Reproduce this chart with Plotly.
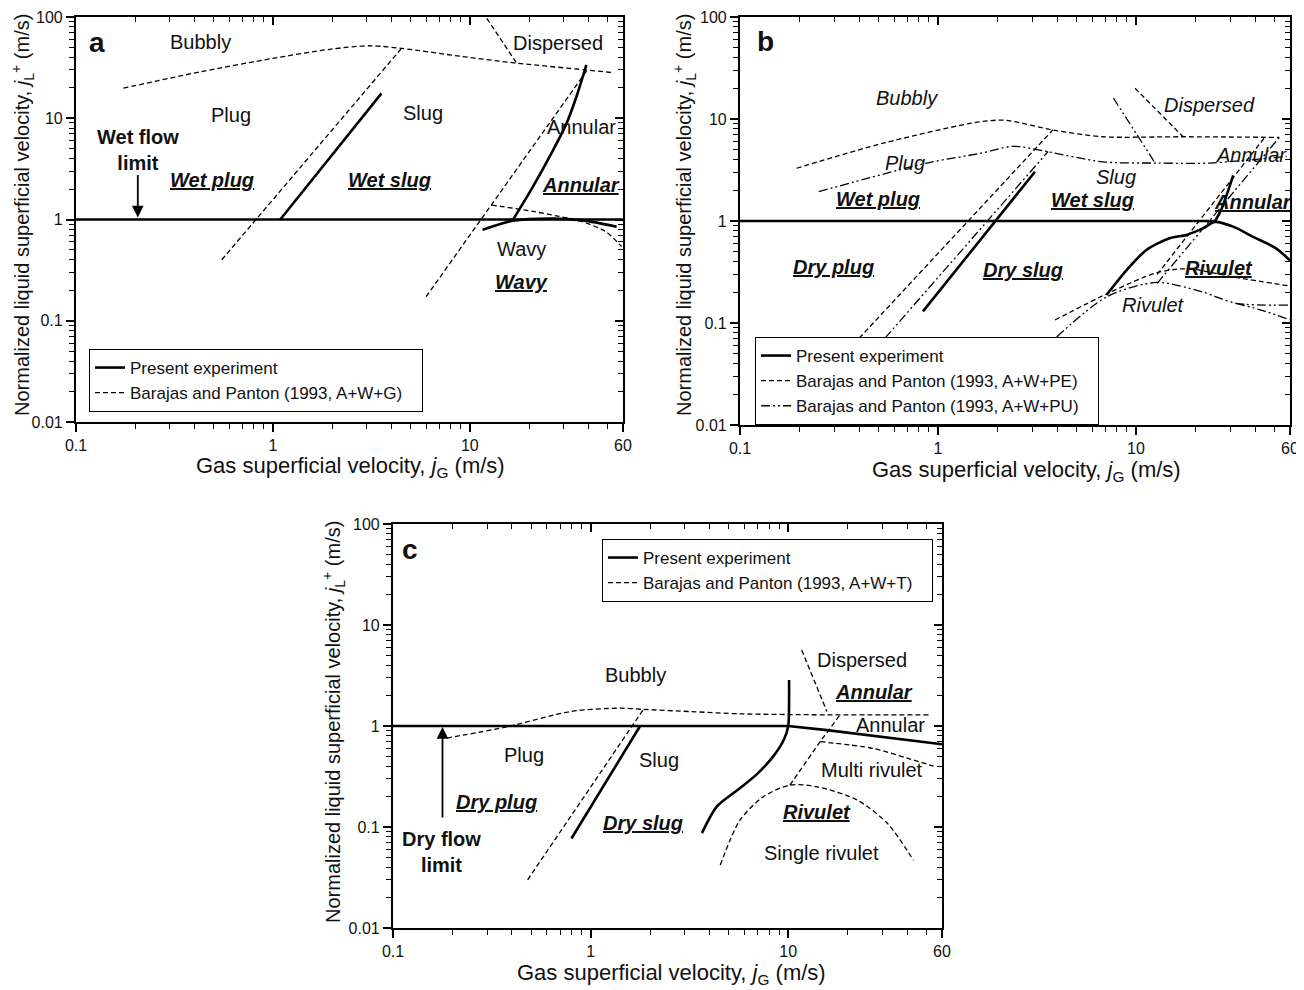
import math
import plotly.graph_objects as go

# ---------------- data ----------------
# Panel a : A+W+G
a_limit_x = [0.1, 60]
a_limit_y = [1.0, 1.0]
a_exp_slug_x = [1.09, 3.56]
a_exp_slug_y = [1.0, 17.6]
a_exp_ann_x = [16.6, 20.9, 26.5, 31.0, 34.8, 39.1]
a_exp_ann_y = [1.0, 2.1, 4.85, 8.9, 16.3, 33.6]
a_exp_wavy_x = [11.6, 16.5, 26.4, 37.5, 55.7]
a_exp_wavy_y = [0.79, 0.97, 1.02, 0.98, 0.85]
a_bp_bubbly_x = [0.174, 0.43, 1.0, 1.95, 3.1, 4.5, 8.9, 17.3, 39, 53]
a_bp_bubbly_y = [19.8, 28.8, 39, 48, 52, 49, 41, 35, 30, 28.2]
a_bp_disp_x = [12.2, 17.3]
a_bp_disp_y = [97, 35]
a_bp_plugslug_x = [0.55, 4.5]
a_bp_plugslug_y = [0.40, 49]
a_bp_slugann_x = [6.0, 40]
a_bp_slugann_y = [0.173, 31]
a_bp_wavy_x = [12.9, 21, 28, 36, 49, 59]
a_bp_wavy_y = [1.39, 1.2, 1.08, 0.97, 0.76, 0.54]

# Panel b : A+W+PE / A+W+PU
b_limit_x = [0.1, 25]
b_limit_y = [1.0, 1.0]
b_exp_slug_x = [0.84, 3.09]
b_exp_slug_y = [0.13, 3.04]
b_exp_riv_x = [7.1, 8.97, 11.3, 14.9, 18, 21.9, 25, 31, 39, 51, 60]
b_exp_riv_y = [0.188, 0.33, 0.52, 0.68, 0.73, 0.85, 0.98, 0.88, 0.70, 0.54, 0.41]
b_exp_ann_x = [25, 27, 29, 31]
b_exp_ann_y = [0.98, 1.3, 1.9, 2.8]
b_pe_bubbly_x = [0.193, 0.53, 1.63, 2.2, 3.8, 6.8, 17.3, 53]
b_pe_bubbly_y = [3.29, 5.8, 9.4, 9.7, 7.8, 6.7, 6.7, 6.6]
b_pe_disp_x = [9.9, 17.3]
b_pe_disp_y = [20, 6.7]
b_pe_plugslug_x = [0.40, 3.8]
b_pe_plugslug_y = [0.071, 7.8]
b_pe_riv_x = [3.9, 7.4, 12.7, 18, 32, 60]
b_pe_riv_y = [0.107, 0.2, 0.31, 0.34, 0.28, 0.23]
b_pe_slugann_x = [12.8, 45]
b_pe_slugann_y = [0.30, 6.7]
b_pu_bubbly_x = [0.25, 0.88, 1.63, 2.4, 3.54, 6.8, 12.7, 23.7, 57.7]
b_pu_bubbly_y = [1.94, 3.7, 4.6, 5.4, 4.8, 3.8, 3.7, 3.7, 4.3]
b_pu_disp_x = [7.7, 12.5]
b_pu_disp_y = [16, 3.7]
b_pu_plugslug_x = [0.54, 3.6]
b_pu_plugslug_y = [0.071, 4.8]
b_pu_riv_x = [3.98, 7.1, 12.7, 21.9, 32, 60]
b_pu_riv_y = [0.073, 0.18, 0.25, 0.2, 0.156, 0.15]
b_pu_wavy_x = [32, 45, 60]
b_pu_wavy_y = [0.156, 0.13, 0.107]
b_pu_slugann_x = [12.8, 53]
b_pu_slugann_y = [0.245, 6.6]

# Panel c : A+W+T
c_limit_x = [0.1, 10, 15.7, 55.5, 60]
c_limit_y = [1.0, 1.0, 0.91, 0.67, 0.66]
c_exp_slug_x = [0.80, 1.78]
c_exp_slug_y = [0.077, 1.0]
c_exp_riv_x = [3.66, 4.35, 5.5, 6.9, 8.4, 9.5, 10.0, 10.1, 10.1]
c_exp_riv_y = [0.087, 0.159, 0.23, 0.33, 0.50, 0.73, 1.0, 1.95, 2.85]
c_t_bubbly_x = [0.187, 0.377, 0.79, 1.41, 1.85, 3.19, 5.7, 15.7, 51.4]
c_t_bubbly_y = [0.76, 0.98, 1.39, 1.5, 1.46, 1.39, 1.32, 1.29, 1.29]
c_t_disp_x = [11.7, 15.7]
c_t_disp_y = [5.65, 1.39]
c_t_plugslug_x = [0.48, 1.85]
c_t_plugslug_y = [0.030, 1.46]
c_t_slugann_x = [10.2, 14.5, 18.3]
c_t_slugann_y = [0.26, 0.70, 1.29]
c_t_multi_x = [14.5, 26.9, 40, 54.4]
c_t_multi_y = [0.70, 0.60, 0.48, 0.40]
c_t_riv_x = [4.53, 5.7, 7.5, 10.2, 14, 22.3, 31.7, 43]
c_t_riv_y = [0.042, 0.117, 0.2, 0.26, 0.25, 0.185, 0.109, 0.047]

# tick labels
x_tick_vals = [0.1, 1, 10, 60]
x_tick_text = ["0.1", "1", "10", "60"]
y_tick_vals = [0.01, 0.1, 1, 10, 100]
y_tick_text = ["0.01", "0.1", "1", "10", "100"]

# ---------------- styling ----------------
# the page body has an 8 px margin, so the figure is 8 px smaller and every
# window-pixel position is shifted by OFF
OFF = 8
W, H = 1304 - OFF, 990 - OFF
FONT = "Arial, 'Liberation Sans', sans-serif"
INK = "#111111"
SOLID = dict(color="black", width=2.6)
DASH = dict(color="black", width=1.3, dash="5px,3px")
DDOT = dict(color="black", width=1.3, dash="9px,3px,2px,3px,2px,3px")
PAD = "\u00a0\u00a0\u00a0"


def fx(px):
    return (px - OFF) / W


def fy(py):
    return (H - (py - OFF)) / H


# window-pixel boxes of the three plot areas
BOX = {"a": (76, 623, 17, 422), "b": (740, 1290, 17, 425), "c": (393, 942, 524, 928)}
AX = {"a": ("x", "y", "x4", "y4", "legend"),
      "b": ("x2", "y2", "x5", "y5", "legend2"),
      "c": ("x3", "y3", "x6", "y6", "legend3")}

x_minor = [m * 10.0 ** e for e in (-1, 0) for m in range(2, 10)] + [20, 30, 40, 50]
y_minor = [m * 10.0 ** e for e in (-2, -1, 0, 1) for m in range(2, 10)]

fig = go.Figure()


def add(panel, x, y, style, name=None, spline=False):
    xa, ya, _, _, lg = AX[panel]
    fig.add_trace(go.Scatter(
        x=x, y=y, mode="lines", line=dict(style, shape="spline" if spline else "linear",
                                          smoothing=0.8),
        xaxis=xa, yaxis=ya, legend=lg, name=name or "",
        showlegend=name is not None, hoverinfo="skip"))


# panel a
add("a", a_limit_x, a_limit_y, SOLID, "Present experiment")
add("a", a_bp_bubbly_x, a_bp_bubbly_y, DASH, "Barajas and Panton (1993, A+W+G)" + PAD, spline=True)
add("a", a_exp_slug_x, a_exp_slug_y, SOLID)
add("a", a_exp_ann_x, a_exp_ann_y, SOLID, spline=True)
add("a", a_exp_wavy_x, a_exp_wavy_y, SOLID, spline=True)
add("a", a_bp_disp_x, a_bp_disp_y, DASH)
add("a", a_bp_plugslug_x, a_bp_plugslug_y, DASH)
add("a", a_bp_slugann_x, a_bp_slugann_y, DASH)
add("a", a_bp_wavy_x, a_bp_wavy_y, DASH, spline=True)

# panel b
add("b", b_limit_x, b_limit_y, SOLID, "Present experiment")
add("b", b_pe_bubbly_x, b_pe_bubbly_y, DASH, "Barajas and Panton (1993, A+W+PE)" + PAD, spline=True)
add("b", b_pu_bubbly_x, b_pu_bubbly_y, DDOT, "Barajas and Panton (1993, A+W+PU)" + PAD, spline=True)
add("b", b_exp_slug_x, b_exp_slug_y, SOLID)
add("b", b_exp_riv_x, b_exp_riv_y, SOLID, spline=True)
add("b", b_exp_ann_x, b_exp_ann_y, SOLID, spline=True)
add("b", b_pe_disp_x, b_pe_disp_y, DASH)
add("b", b_pe_plugslug_x, b_pe_plugslug_y, DASH)
add("b", b_pe_riv_x, b_pe_riv_y, DASH, spline=True)
add("b", b_pe_slugann_x, b_pe_slugann_y, DASH)
add("b", b_pu_disp_x, b_pu_disp_y, DDOT)
add("b", b_pu_plugslug_x, b_pu_plugslug_y, DDOT)
add("b", b_pu_riv_x, b_pu_riv_y, DDOT, spline=True)
add("b", b_pu_wavy_x, b_pu_wavy_y, DDOT, spline=True)
add("b", b_pu_slugann_x, b_pu_slugann_y, DDOT)

# panel c
add("c", c_limit_x, c_limit_y, SOLID, "Present experiment")
add("c", c_t_bubbly_x, c_t_bubbly_y, DASH, "Barajas and Panton (1993, A+W+T)" + PAD, spline=True)
add("c", c_exp_slug_x, c_exp_slug_y, SOLID)
add("c", c_exp_riv_x, c_exp_riv_y, SOLID, spline=True)
add("c", c_t_disp_x, c_t_disp_y, DASH)
add("c", c_t_plugslug_x, c_t_plugslug_y, DASH)
add("c", c_t_slugann_x, c_t_slugann_y, DASH)
add("c", c_t_multi_x, c_t_multi_y, DASH, spline=True)
add("c", c_t_riv_x, c_t_riv_y, DASH, spline=True)

# ---------------- axes ----------------
layout = dict(width=W, height=H, margin=dict(l=0, r=0, t=0, b=0, autoexpand=False),
              paper_bgcolor="white", plot_bgcolor="white",
              font=dict(family=FONT, color=INK, size=16))

XR = [-1, math.log10(60)]
YR = [-2, 2]


def key(axid):
    return ("xaxis" if axid[0] == "x" else "yaxis") + axid[1:]


for p, (x0, x1, y0, y1) in BOX.items():
    xa, ya, xt, yr, lg = AX[p]
    xd = [fx(x0), fx(x1)]
    yd = [fy(y1), fy(y0)]
    common = dict(type="log", showgrid=False, zeroline=False, automargin=False)
    layout[key(xa)] = dict(common, domain=xd, range=XR, anchor=ya,
                           tickvals=x_tick_vals, ticktext=x_tick_text,
                           ticks="outside", ticklen=8, tickwidth=1.6, tickcolor="black",
                           minor=dict(tickvals=x_minor, ticks="outside", ticklen=5,
                                      tickwidth=1.2, tickcolor="black"),
                           showline=True, linewidth=2.2, linecolor="black", mirror=True,
                           tickfont=dict(size=16, family=FONT, color=INK))
    layout[key(ya)] = dict(common, domain=yd, range=YR, anchor=xa,
                           tickvals=y_tick_vals, ticktext=y_tick_text,
                           ticks="outside", ticklen=8, tickwidth=1.6, tickcolor="black",
                           minor=dict(tickvals=y_minor, ticks="outside", ticklen=5,
                                      tickwidth=1.2, tickcolor="black"),
                           showline=True, linewidth=2.2, linecolor="black", mirror=True,
                           tickfont=dict(size=16, family=FONT, color=INK))
    layout[key(xt)] = dict(common, overlaying=xa, side="top", anchor=ya, range=XR,
                           tickvals=x_tick_vals, ticks="inside", ticklen=8, tickwidth=1.6,
                           tickcolor="black", showticklabels=False, showline=False,
                           minor=dict(tickvals=x_minor, ticks="inside", ticklen=5,
                                      tickwidth=1.2, tickcolor="black"))
    layout[key(yr)] = dict(common, overlaying=ya, side="right", anchor=xa, range=YR,
                           tickvals=y_tick_vals, ticks="inside", ticklen=8, tickwidth=1.6,
                           tickcolor="black", showticklabels=False, showline=False,
                           minor=dict(tickvals=y_minor, ticks="inside", ticklen=5,
                                      tickwidth=1.2, tickcolor="black"))
    fig.add_trace(go.Scatter(x=[None], y=[None], xaxis=xt, yaxis=yr, mode="lines",
                             showlegend=False, hoverinfo="skip"))

# legends
leg_common = dict(xanchor="left", yanchor="top", bgcolor="white", bordercolor="black",
                  borderwidth=1, font=dict(size=17, family=FONT, color=INK),
                  tracegroupgap=0, itemwidth=30, traceorder="normal")
layout["legend"] = dict(leg_common, x=fx(89), y=fy(349))
layout["legend2"] = dict(leg_common, x=fx(755), y=fy(337))
layout["legend3"] = dict(leg_common, x=fx(602), y=fy(539))

fig.update_layout(**layout)

# ---------------- text ----------------
ann = []


def label(panel, x, y, text, size=20, style=""):
    xa, ya = AX[panel][0], AX[panel][1]
    if style == "bi":
        text = "<b><i><u>%s</u></i></b>" % text
    elif style == "b":
        text = "<b>%s</b>" % text
    elif style == "i":
        text = "<i>%s</i>" % text
    ann.append(dict(x=math.log10(x), y=math.log10(y), xref=xa, yref=ya, text=text,
                    showarrow=False, xanchor="center", yanchor="middle",
                    font=dict(size=size, family=FONT, color=INK)))


# panel a labels
label("a", 0.128, 56.6, "a", 28, "b")
label("a", 0.43, 56.6, "Bubbly")
label("a", 0.61, 10.8, "Plug")
label("a", 0.206, 4.9, "Wet flow<br>limit", 20, "b")
label("a", 0.49, 2.45, "Wet plug", 20, "bi")
label("a", 5.77, 11.3, "Slug")
label("a", 3.93, 2.45, "Wet slug", 20, "bi")
label("a", 28, 55.4, "Dispersed")
label("a", 37, 8.2, "Annular")
label("a", 36.5, 2.19, "Annular", 20, "bi")
label("a", 18.4, 0.51, "Wavy")
label("a", 18.4, 0.24, "Wavy", 20, "bi")

# panel b labels
label("b", 0.134, 56.9, "b", 28, "b")
label("b", 0.695, 16, "Bubbly", 20, "i")
label("b", 0.68, 3.7, "Plug", 20, "i")
label("b", 0.495, 1.64, "Wet plug", 20, "bi")
label("b", 0.298, 0.356, "Dry plug", 20, "bi")
label("b", 7.9, 2.72, "Slug", 20, "i")
label("b", 6.03, 1.61, "Wet slug", 20, "bi")
label("b", 23.6, 13.7, "Dispersed", 20, "i")
label("b", 38.4, 4.44, "Annular", 20, "i")
label("b", 39, 1.55, "Annular", 20, "bi")
label("b", 2.7, 0.33, "Dry slug", 20, "bi")
label("b", 26.2, 0.344, "Rivulet", 20, "bi")
label("b", 12.3, 0.15, "Rivulet", 20, "i")

# panel c labels
label("c", 0.122, 55.3, "c", 28, "b")
label("c", 1.68, 3.2, "Bubbly")
label("c", 0.46, 0.516, "Plug")
label("c", 2.22, 0.46, "Slug")
label("c", 0.335, 0.178, "Dry plug", 20, "bi")
label("c", 1.85, 0.11, "Dry slug", 20, "bi")
label("c", 0.176, 0.057, "Dry flow<br>limit", 20, "b")
label("c", 23.6, 4.5, "Dispersed")
label("c", 27.2, 2.19, "Annular", 20, "bi")
label("c", 32.8, 1.02, "Annular")
label("c", 26.5, 0.366, "Multi rivulet")
label("c", 14, 0.14, "Rivulet", 20, "bi")
label("c", 14.8, 0.055, "Single rivulet")

# flow-limit arrows
ann.append(dict(x=math.log10(0.206), y=0, xref="x", yref="y", ax=0, ay=-46,
                showarrow=True, arrowhead=2, arrowsize=1.3, arrowwidth=1.8,
                arrowcolor="black", standoff=2, text=""))
ann.append(dict(x=math.log10(0.178), y=0, xref="x3", yref="y3", ax=0, ay=93,
                showarrow=True, arrowhead=2, arrowsize=1.3, arrowwidth=1.8,
                arrowcolor="black", standoff=1, text=""))

# axis titles
XT = "Gas superficial velocity, <i>j</i><sub>G</sub> (m/s)"
YT = "Normalized liquid superficial velocity, <i>j</i><sub>L</sub><sup>+</sup> (m/s)"
for (px, py) in [(350, 467), (1026, 471), (671, 974)]:
    ann.append(dict(x=fx(px), y=fy(py), xref="paper", yref="paper", text=XT,
                    showarrow=False, xanchor="center", yanchor="middle",
                    font=dict(size=22, family=FONT, color=INK)))
for (px, py) in [(23, 215), (685, 215), (333, 722)]:
    ann.append(dict(x=fx(px), y=fy(py), xref="paper", yref="paper", text=YT,
                    showarrow=False, xanchor="center", yanchor="middle", textangle=-90,
                    font=dict(size=20, family=FONT, color=INK)))

fig.update_layout(annotations=ann)
fig.write_html("out.html")
